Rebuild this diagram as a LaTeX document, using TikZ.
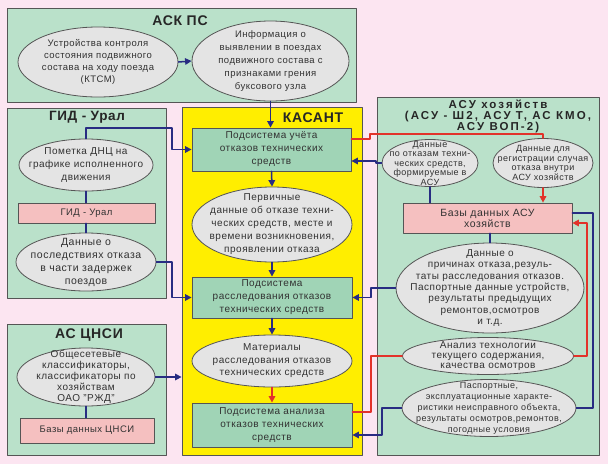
\documentclass[tikz,border=0pt]{standalone}
\usepackage{fontspec}
\setmainfont{Liberation Sans}[LetterSpace=5]
\usetikzlibrary{arrows.meta,positioning,shapes.geometric}
\definecolor{bgpink}{RGB}{252,229,241}
\definecolor{boxgreen}{RGB}{186,225,202}
\definecolor{subgreen}{RGB}{160,212,182}
\definecolor{kyellow}{RGB}{255,238,0}
\definecolor{ovalgray}{RGB}{228,228,228}
\definecolor{dbpink}{RGB}{245,192,192}
\definecolor{navyblue}{RGB}{40,44,130}
\definecolor{arrred}{RGB}{226,50,42}
\definecolor{edgegray}{RGB}{85,85,85}
\definecolor{txtgray}{RGB}{50,50,50}
\tikzset{
  grpbox/.style={rectangle, draw=edgegray, fill=boxgreen, line width=0.8pt, inner sep=0pt},
  subsys/.style={rectangle, draw=edgegray, fill=subgreen, line width=0.8pt, inner sep=0pt,
    align=center, text=txtgray, font=\fontsize{10}{13}\selectfont},
  dbbox/.style={rectangle, draw=edgegray, fill=dbpink, line width=0.7pt, inner sep=0pt,
    align=center, text=txtgray, font=\fontsize{9.5}{11}\selectfont},
  oval/.style={ellipse, draw=edgegray, fill=ovalgray, line width=0.8pt, inner sep=0pt},
  otext/.style={align=center, inner sep=0pt, text=txtgray, font=\fontsize{10}{13}\selectfont},
  ttl/.style={align=center, inner sep=0pt, text=black!85, font=\bfseries\fontsize{14}{15}\selectfont},
  blueline/.style={draw=navyblue, line width=1.5pt},
  bluearr/.style={blueline, -{Triangle[length=6.5pt,width=6.5pt]}},
  redline/.style={draw=arrred, line width=1.5pt},
  redarr/.style={redline, -{Triangle[length=6.5pt,width=6.5pt]}},
  every picture/.style={line cap=round, line join=round}
}
\begin{document}
\begin{tikzpicture}[x=1pt,y=-1pt]
  \fill[bgpink] (0,0) rectangle (608,464);
  \useasboundingbox (0,0) rectangle (608,464);

  % system boxes
  \node[grpbox, minimum width=349pt, minimum height=94pt] (askps) at (181.5,55) {};
  \node[grpbox, minimum width=159pt, minimum height=190pt] (gid) at (86.5,203) {};
  \node[grpbox, minimum width=159pt, minimum height=131pt] (cnsi) at (86.5,389.5) {};
  \node[grpbox, fill=kyellow, minimum width=180pt, minimum height=348pt] (kasant) at (272,281) {};
  \node[grpbox, minimum width=222pt, minimum height=358pt] (asu) at (488,276) {};

  \node[ttl] (askps-t) at (180,21) {АСК ПС};
  \node[ttl] (kasant-t) at (313,118) {КАСАНТ};
  \node[ttl, font=\bfseries\fontsize{13.5}{14}\selectfont] (gid-t) at (87,117) {ГИД - Урал};
  \node[ttl] (cnsi-t) at (89,335) {АС ЦНСИ};
  \node[ttl, font=\bfseries\fontsize{11.5}{11}\selectfont\addfontfeatures{LetterSpace=18}] (asu-t) at (498,116)
    {АСУ хозяйств\\(АСУ - Ш2, АСУ Т, АС КМО,\\АСУ ВОП-2)};

  % АСК ПС
  \node[oval, minimum width=160pt, minimum height=70pt] (ktsm) at (98,62) {};
  \node[otext, font=\fontsize{9.5}{12}\selectfont] (ktsm-t) at (ktsm.center)
    {Устройства контроля\\состояния подвижного\\состава на ходу поезда\\(КТСМ)};
  \node[oval, minimum width=157pt, minimum height=80pt] (grenie) at (270.5,61) {};
  \node[otext, font=\fontsize{9.5}{13}\selectfont] (grenie-t) at (grenie.center)
    {Информация о\\выявлении в поездах\\подвижного состава с\\признаками грения\\буксового узла};

  % ГИД - Урал
  \node[oval, minimum width=134pt, minimum height=52pt] (dnc) at (86,165) {};
  \node[otext] (dnc-t) at (dnc.center) {Пометка ДНЦ на\\графике исполненного\\движения};
  \node[dbbox, minimum width=137pt, minimum height=20pt] (gidrect) at (86.5,213) {ГИД - Урал};
  \node[oval, minimum width=140pt, minimum height=58pt] (zaderzh) at (86,262) {};
  \node[otext, font=\fontsize{10.5}{13}\selectfont] (zaderzh-t) at (zaderzh.center)
    {Данные о\\последствиях отказа\\в части задержек\\поездов};

  % АС ЦНСИ
  \node[oval, minimum width=138pt, minimum height=58pt] (klass) at (86,377) {};
  \node[otext, font=\fontsize{10}{11}\selectfont] (klass-t) at (klass.center)
    {Общесетевые\\классификаторы,\\классификаторы по\\хозяйствам\\ОАО "РЖД"};
  \node[dbbox, minimum width=134pt, minimum height=25pt] (cnsirect) at (87,430.5) {Базы данных ЦНСИ};

  % КАСАНТ
  \node[subsys, minimum width=159pt, minimum height=43pt] (uchet) at (271.5,149.5)
    {Подсистема учёта\\отказов технических\\средств};
  \node[oval, minimum width=160pt, minimum height=75pt] (pervich) at (272,224.5) {};
  \node[otext] (pervich-t) at (pervich.center)
    {Первичные\\данные об отказе техни-\\ческих средств, месте и\\времени возникновения,\\проявлении отказа};
  \node[subsys, minimum width=160pt, minimum height=41pt] (rassl) at (272,297.5)
    {Подсистема\\расследования отказов\\технических средств};
  \node[oval, minimum width=160pt, minimum height=52pt] (mater) at (272,361) {};
  \node[otext, font=\fontsize{10}{12.5}\selectfont] (mater-t) at (mater.center)
    {Материалы\\расследования отказов\\технических средств};
  \node[subsys, minimum width=160pt, minimum height=44pt] (analizs) at (272,425)
    {Подсистема анализа\\отказов технических\\средств};

  % АСУ хозяйств
  \node[oval, minimum width=96pt, minimum height=47pt] (otkasu) at (430,163) {};
  \node[otext, font=\fontsize{9}{9.5}\selectfont] (otkasu-t) at (otkasu.center)
    {Данные\\по отказам техни-\\ческих средств,\\формируемые в\\АСУ};
  \node[oval, minimum width=100pt, minimum height=49pt] (regasu) at (543,163) {};
  \node[otext, font=\fontsize{9}{9.5}\selectfont] (regasu-t) at (regasu.center)
    {Данные для\\регистрации случая\\отказа внутри\\АСУ хозяйств};
  \node[dbbox, minimum width=169pt, minimum height=30pt, font=\fontsize{10.5}{11}\selectfont] (asudb) at (487.5,218)
    {Базы данных АСУ\\хозяйств};
  \node[oval, minimum width=188pt, minimum height=90pt] (prich) at (490,288) {};
  \node[otext, font=\fontsize{10}{11.3}\selectfont] (prich-t) at (prich.center)
    {Данные о\\причинах отказа,резуль-\\таты расследования отказов.\\Паспортные данные устройств,\\результаты предыдущих\\ремонтов,осмотров\\и т.д.};
  \node[oval, minimum width=171pt, minimum height=37pt] (analiz) at (488,356) {};
  \node[otext, font=\fontsize{10}{10}\selectfont] (analiz-t) at (analiz.center)
    {Анализ технологии\\текущего содержания,\\качества осмотров};
  \node[oval, minimum width=174pt, minimum height=57pt] (pasp) at (489,408) {};
  \node[otext, font=\fontsize{9}{11}\selectfont] (pasp-t) at (pasp.center)
    {Паспортные,\\эксплуатационные характе-\\ристики неисправного объекта,\\результаты осмотров,ремонтов,\\погодные условия};

  % links on the left
  \draw[bluearr] (ktsm.east) -- (grenie.west);
  \draw[bluearr] (grenie.south) -- (grenie.south |- uchet.north);
  \draw[bluearr] (dnc.north) |- (172,128) |- (uchet.west);
  \draw[blueline] (dnc.south) -- (gidrect.north -| dnc.south);
  \draw[blueline] (gidrect.south -| zaderzh.north) -- (zaderzh.north);
  \draw[bluearr] (zaderzh.east) -- (172,262) |- (rassl.west);
  \draw[bluearr] (klass.east) -- (klass.east -| kasant.west);
  \draw[blueline] (klass.south) -- (cnsirect.north -| klass.south);

  % links inside КАСАНТ
  \draw[bluearr] (uchet.south) -- (pervich.north);
  \draw[bluearr] (pervich.south) -- (rassl.north);
  \draw[bluearr] (rassl.south) -- (mater.north);
  \draw[redarr] (mater.south) -- (analizs.north);

  % links on the right
  \draw[redline] ([yshift=10.5pt]uchet.east) -- (370,139) -- (370,134) -| (regasu.north);
  \draw[redarr] (regasu.south) -- (regasu.south |- asudb.north);
  \draw[bluearr] (otkasu.west) -- (376,163) |- ([yshift=-11.5pt]uchet.east);
  \draw[blueline] (otkasu.south) -- (otkasu.south |- asudb.north);
  \draw[blueline] (asudb.south -| prich.north) -- (prich.north);
  \draw[bluearr] (prich.west) -- (371,288) |- (rassl.east);
  \draw[redline] ([yshift=13pt]analizs.east) -- (371,412) |- (analiz.west);
  \draw[bluearr] (pasp.west) -- (382,408) |- ([yshift=-10pt]analizs.east);
  \draw[blueline] ([yshift=5pt]asudb.east) -- (593,213) |- (pasp.east);
  \draw[redarr] (analiz.east) -- (587,356) |- ([yshift=-5pt]asudb.east);
\end{tikzpicture}
\end{document}
